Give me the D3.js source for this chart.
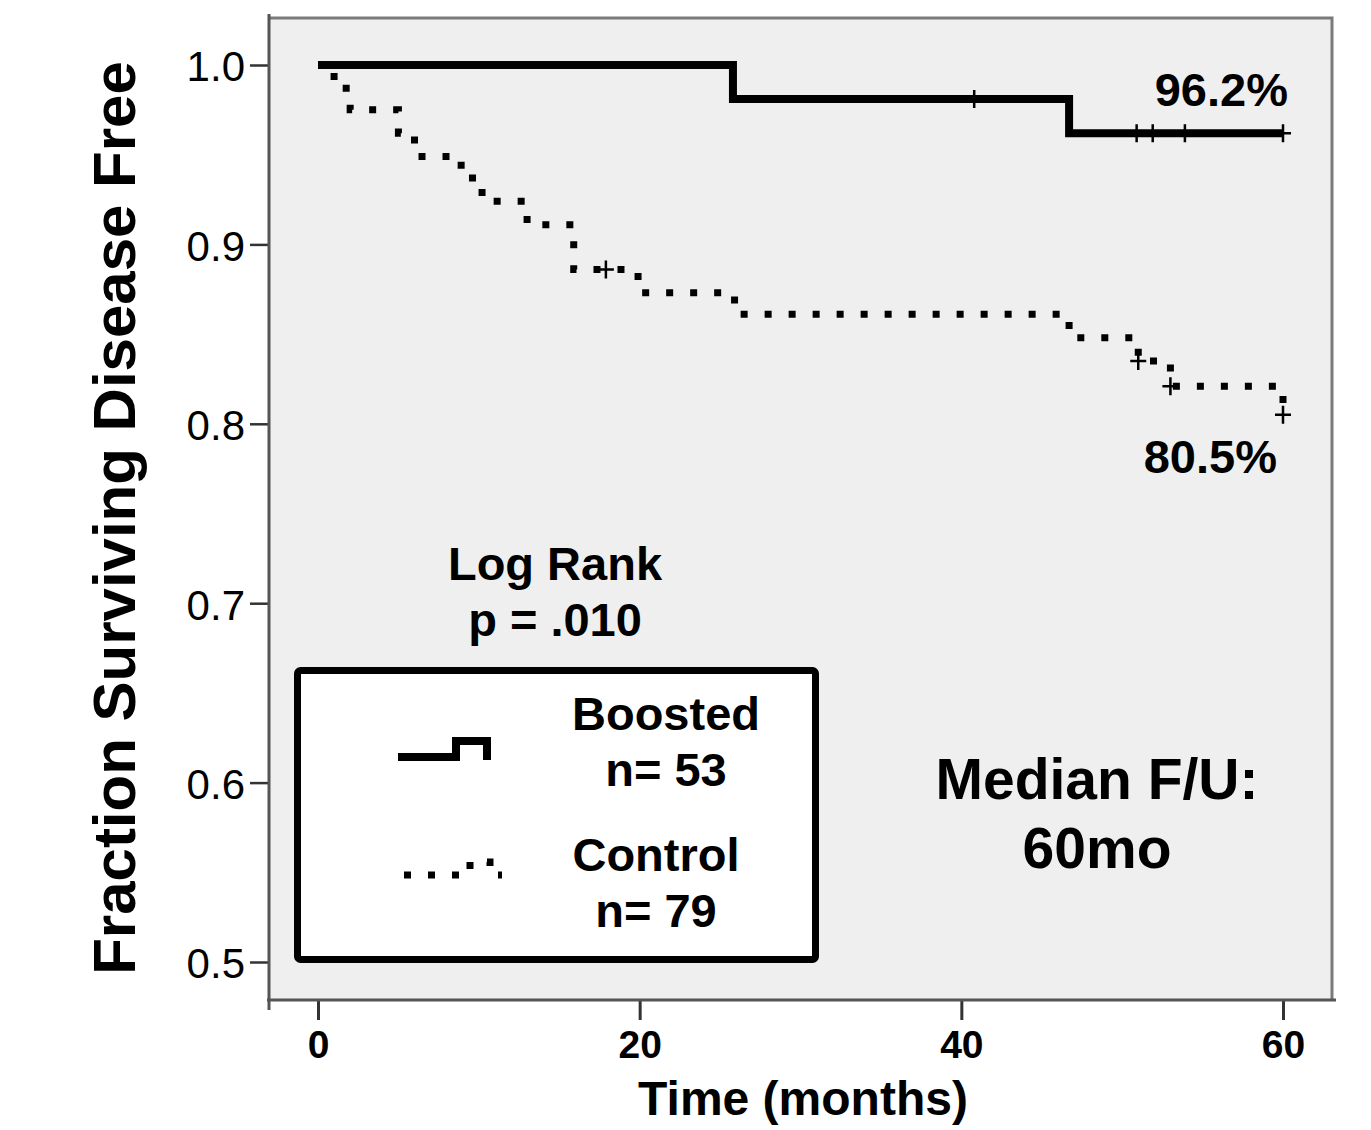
<!DOCTYPE html>
<html>
<head>
<meta charset="utf-8">
<script src="https://cdn.jsdelivr.net/npm/d3@7"></script>
<style>
  html, body { margin: 0; padding: 0; background: #fff; }
  svg { display: block; }
  text { font-family: "Liberation Sans", Arial, Helvetica, sans-serif; fill: #000; }
</style>
</head>
<body>
<svg id="chart" width="1371" height="1130"></svg>
<script>
// Kaplan-Meier steps (months, fraction disease free)
const boosted_times = [0, 25.8, 46.7, 60];
const boosted_surv = [1.0, 0.981, 0.962, 0.962];
const boosted_censor = [40.8, 50.9, 51.9, 53.9, 60];

const control_times = [0, 1.0, 2.0, 5.0, 6.0, 8.9, 10.2, 13.0, 15.9, 19.9, 25.9, 46.7, 51.0, 53.0, 60];
const control_surv = [1.0, 0.987, 0.975, 0.962, 0.949, 0.937, 0.924, 0.911, 0.886, 0.873, 0.861, 0.848, 0.835, 0.821, 0.805];
const control_censor = [17.9, 51.0, 53.0, 60];

const x_ticks = [0, 20, 40, 60];
const y_ticks = [0.5, 0.6, 0.7, 0.8, 0.9, 1.0];

const legend_labels = [['Boosted', 'n= 53'], ['Control', 'n= 79']];
const pvalue_lines = ['Log Rank', 'p = .010'];
const followup_lines = ['Median F/U:', '60mo'];

// frame of the plot panel
const frame = {left: 269, right: 1332, top: 18, bottom: 1000};

const svg = d3.select('#chart');

const x = d3.scaleLinear().domain([0, 60]).range([318, 1283]);
const y = d3.scaleLinear().domain([0.5, 1.0]).range([962, 65]);

// panel background
svg.append('rect')
  .attr('x', frame.left).attr('y', frame.top)
  .attr('width', frame.right - frame.left)
  .attr('height', frame.bottom - frame.top)
  .attr('fill', '#efefef');

// top and right borders
svg.append('path')
  .attr('d', `M${frame.left},${frame.top}H${frame.right}V${frame.bottom}`)
  .attr('fill', 'none')
  .attr('stroke', '#7a7a7a')
  .attr('stroke-width', 3);

// left axis
const y_axis = svg.append('g')
  .attr('transform', `translate(${frame.left},0)`)
  .call(d3.axisLeft(y).tickValues(y_ticks).tickFormat(d3.format('.1f')).tickSize(19).tickPadding(5));
y_axis.select('.domain').remove();
y_axis.selectAll('.tick line').attr('stroke', '#333').attr('stroke-width', 2.5);
y_axis.selectAll('.tick text')
  .attr('font-size', 42)
  .attr('dy', '0.38em')
  .attr('fill', '#111')
  .style('font-family', '"Liberation Sans", Arial, sans-serif');
svg.append('line')
  .attr('x1', frame.left).attr('x2', frame.left)
  .attr('y1', 14).attr('y2', 1010)
  .attr('stroke', '#555').attr('stroke-width', 3);

// bottom axis
const x_axis = svg.append('g')
  .attr('transform', `translate(0,${frame.bottom})`)
  .call(d3.axisBottom(x).tickValues(x_ticks).tickSize(20).tickPadding(10));
x_axis.select('.domain').remove();
x_axis.selectAll('.tick line').attr('stroke', '#333').attr('stroke-width', 3);
x_axis.selectAll('.tick text')
  .attr('font-size', 39)
  .attr('font-weight', 'bold')
  .attr('fill', '#111')
  .style('font-family', '"Liberation Sans", Arial, sans-serif');
svg.append('line')
  .attr('x1', 267).attr('x2', 1336)
  .attr('y1', frame.bottom).attr('y2', frame.bottom)
  .attr('stroke', '#555').attr('stroke-width', 3);

// axis titles
svg.append('text')
  .attr('transform', 'translate(135,518) rotate(-90)')
  .attr('text-anchor', 'middle')
  .attr('font-size', 60)
  .attr('font-weight', 'bold')
  .text('Fraction Surviving Disease Free');

svg.append('text')
  .attr('x', 803).attr('y', 1115)
  .attr('text-anchor', 'middle')
  .attr('font-size', 48)
  .attr('font-weight', 'bold')
  .text('Time (months)');

// survival curves
const km_line = d3.line()
  .x(d => x(d[0]))
  .y(d => y(d[1]))
  .curve(d3.curveStepAfter);

const boosted = d3.zip(boosted_times, boosted_surv);
const control = d3.zip(control_times, control_surv);

svg.append('path')
  .attr('d', km_line(control))
  .attr('fill', 'none')
  .attr('stroke', '#000')
  .attr('stroke-width', 7)
  .attr('stroke-dasharray', '7 17');

svg.append('path')
  .attr('d', km_line(boosted))
  .attr('fill', 'none')
  .attr('stroke', '#000')
  .attr('stroke-width', 8)
  .attr('stroke-linejoin', 'miter');

// censor marks as small plus signs
const survAt = (times, surv, t) => surv[d3.bisectRight(times, t) - 1];
const plus = 'M-8,0H8M0,-9V9';

function drawCensor(times, surv, censor){
  svg.append('g')
    .selectAll('path')
    .data(censor)
    .join('path')
    .attr('transform', t => `translate(${x(t)},${y(survAt(times, surv, t))})`)
    .attr('d', plus)
    .attr('stroke', '#000')
    .attr('stroke-width', 2.5);
}
drawCensor(boosted_times, boosted_surv, boosted_censor);
drawCensor(control_times, control_surv, control_censor);

// end-point labels
const bold_text = (tx, ty, str, size, anchor) => svg.append('text')
  .attr('x', tx).attr('y', ty)
  .attr('text-anchor', anchor)
  .attr('font-size', size)
  .attr('font-weight', 'bold')
  .text(str);

const last_b = boosted_surv[boosted_surv.length - 1];
const last_c = control_surv[control_surv.length - 1];
bold_text(x(60) + 5, y(last_b) - 27, d3.format('.1%')(last_b), 47, 'end');
bold_text(x(60) - 6, y(last_c) + 58, d3.format('.1%')(last_c), 47, 'end');

// log rank
pvalue_lines.forEach((s, i) => bold_text(555, 580 + i * 56, s, 47, 'middle'));

// follow-up note
followup_lines.forEach((s, i) => bold_text(1097, 799 + i * 69, s, 57, 'middle'));

// legend box
svg.append('rect')
  .attr('x', 297.5).attr('y', 670.5)
  .attr('width', 518).attr('height', 289)
  .attr('rx', 3)
  .attr('fill', '#fff')
  .attr('stroke', '#000')
  .attr('stroke-width', 7);

svg.append('path')
  .attr('d', 'M398,757H456V741H487V760')
  .attr('fill', 'none')
  .attr('stroke', '#000')
  .attr('stroke-width', 8);

svg.append('path')
  .attr('d', 'M404,875H470V862H490V875H502')
  .attr('fill', 'none')
  .attr('stroke', '#000')
  .attr('stroke-width', 7)
  .attr('stroke-dasharray', '7 17');

const legend_pos = [{cx: 666, y: 730}, {cx: 656, y: 871}];
legend_labels.forEach((pair, i) => {
  bold_text(legend_pos[i].cx, legend_pos[i].y, pair[0], 47, 'middle');
  bold_text(legend_pos[i].cx, legend_pos[i].y + 56, pair[1], 47, 'middle');
});
</script>
</body>
</html>
